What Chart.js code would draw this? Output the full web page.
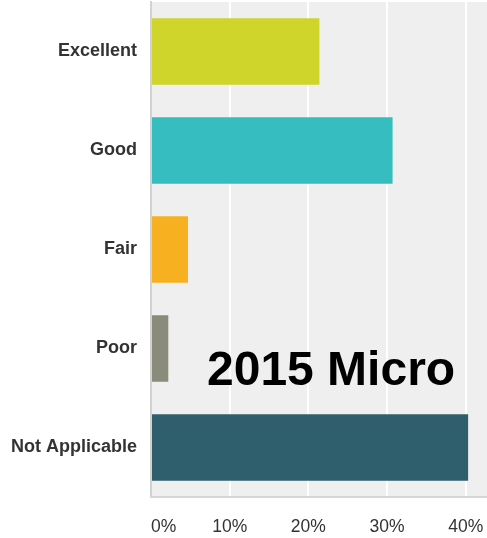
<!DOCTYPE html>
<html>
<head>
<meta charset="utf-8">
<script src="https://cdn.jsdelivr.net/npm/chart.js@4/dist/chart.umd.min.js"></script>
<style>
  html, body { margin: 0; padding: 0; background: #ffffff; }
  #wrap { position: relative; width: 487px; height: 538px; }
  #note { position: absolute; left: 207px; top: 345px; font: bold 48px "Liberation Sans", Arial, sans-serif; line-height: 48px; color: #000; white-space: nowrap; }
</style>
</head>
<body>
<div id="wrap">
  <canvas id="c" width="487" height="538"></canvas>
  <div id="note">2015 Micro</div>
</div>
<script>
const categories = ["Excellent", "Good", "Fair", "Poor", "Not Applicable"];
const values = [21.4, 30.7, 4.7, 2.2, 40.3];
const barColors = ["#cfd52a", "#35bdbf", "#f7b020", "#8a8b7a", "#2f5f6d"];
const tickValues = [0, 10, 20, 30, 40];
const axisMax = 42.7;

const plotBg = {
  id: 'plotBg',
  beforeDraw(chart) {
    const a = chart.chartArea, ctx = chart.ctx;
    ctx.save();
    ctx.fillStyle = '#efefef';
    ctx.fillRect(a.left, a.top, a.right - a.left, a.bottom - a.top);
    ctx.restore();
  }
};

function zeroPad(s) { s.paddingTop = 0; s.paddingBottom = 0; s.paddingLeft = 0; s.paddingRight = 0; }

new Chart(document.getElementById('c'), {
  type: 'bar',
  data: {
    labels: categories,
    datasets: [{
      data: values,
      backgroundColor: barColors,
      borderWidth: 0,
      categoryPercentage: 1.0,
      barPercentage: 0.67
    }]
  },
  options: {
    indexAxis: 'y',
    responsive: false,
    animation: false,
    layout: { padding: { top: 2, right: 0, left: 0, bottom: 0 } },
    plugins: { legend: { display: false }, tooltip: { enabled: false } },
    scales: {
      y: {
        grid: { display: false, drawTicks: false },
        border: { display: true, color: '#d2d2d2', width: 2 },
        ticks: {
          color: '#333333',
          padding: 14,
          font: { family: '"Liberation Sans", Arial, sans-serif', size: 18, weight: 'bold' }
        },
        afterFit(s) { s.width = 151; zeroPad(s); }
      },
      x: {
        min: 0,
        max: axisMax,
        afterBuildTicks(s) {
          s.ticks = tickValues.map(v => ({ value: v })).concat([{ value: axisMax }]);
        },
        grid: {
          drawTicks: false,
          lineWidth: 2,
          color(ctx) { return (ctx.tick && tickValues.includes(ctx.tick.value)) ? '#ffffff' : 'rgba(0,0,0,0)'; }
        },
        border: { display: true, color: '#d6d6d6', width: 2 },
        ticks: {
          align: 'inner',
          padding: 20,
          color: '#333333',
          font: { family: '"Liberation Sans", Arial, sans-serif', size: 17.5 },
          callback(v) { return tickValues.includes(v) ? v + '%' : ''; }
        },
        afterFit(s) { s.height = 41; zeroPad(s); }
      }
    }
  },
  plugins: [plotBg]
});
</script>
</body>
</html>
